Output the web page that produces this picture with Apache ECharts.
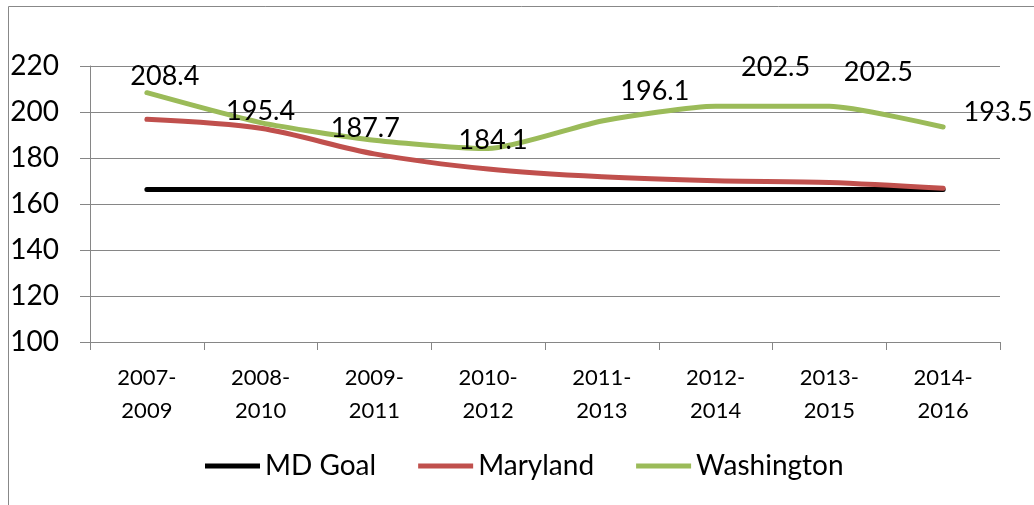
<!DOCTYPE html>
<html>
<head>
<meta charset="utf-8">
<script src="https://cdn.jsdelivr.net/npm/echarts@6/dist/echarts.min.js"></script>
<style>
  html, body { margin: 0; padding: 0; background: #fff; }
  #chart { width: 1034px; height: 505px; }
</style>
</head>
<body>
<div id="chart"></div>
<script>
// 数据
var categories = ['2007-2009', '2008-2010', '2009-2011', '2010-2012', '2011-2013', '2012-2014', '2013-2015', '2014-2016']
var mdGoal = [166.3, 166.3, 166.3, 166.3, 166.3, 166.3, 166.3, 166.3]
var maryland = [196.8, 192.9, 181.8, 175.2, 171.8, 170.1, 169.4, 166.8]
var washington = [208.4, 195.4, 187.7, 184.1, 196.1, 202.5, 202.5, 193.5]

// data label offsets for Washington (placed by hand in the original)
var labelOffsets = [[18, -16], [0, -11], [-9, -12], [5, -8], [53, -30], [60, -39], [49, -34], [55, -15]]

var font = 'Lato, "Open Sans", sans-serif'
var gridColor = '#868686'

var myChart = echarts.init(document.getElementById('chart'))

var option = {
  backgroundColor: '#fff',
  animation: false,
  textStyle: { fontFamily: font },
  graphic: [
    {
      type: 'rect',
      shape: { x: 8.5, y: 6.5, width: 1100, height: 600 },
      style: { fill: 'none', stroke: '#888', lineWidth: 1 }
    }
  ],
  grid: { left: 90, right: 34, top: 66, bottom: 163 },
  legend: {
    left: 205,
    top: 452,
    padding: 0,
    icon: 'rect',
    itemWidth: 55,
    itemHeight: 5,
    itemGap: 42,
    textStyle: { fontFamily: font, fontSize: 28, color: '#000' },
    data: ['MD Goal', 'Maryland', 'Washington']
  },
  xAxis: {
    type: 'category',
    data: categories,
    boundaryGap: true,
    axisLine: { lineStyle: { color: gridColor, width: 1 } },
    axisTick: { show: true, length: 8, lineStyle: { color: gridColor } },
    axisLabel: {
      margin: 19,
      color: '#000',
      fontFamily: font,
      fontSize: 22,
      lineHeight: 33,
      interval: 0,
      formatter: function (v) { return v.replace('-', '-\n') }
    }
  },
  yAxis: {
    type: 'value',
    min: 100,
    max: 220,
    interval: 20,
    axisLine: { show: true, lineStyle: { color: gridColor, width: 1 } },
    axisTick: { show: true, length: 10, lineStyle: { color: gridColor } },
    splitLine: { lineStyle: { color: gridColor, width: 1 } },
    axisLabel: { margin: 31, color: '#000', fontFamily: font, fontSize: 28 }
  },
  series: [
    {
      name: 'MD Goal',
      type: 'line',
      data: mdGoal,
      symbol: 'none',
      lineStyle: { color: '#000', width: 5, cap: 'round' },
      itemStyle: { color: '#000' },
      z: 2
    },
    {
      name: 'Maryland',
      type: 'line',
      data: maryland,
      symbol: 'none',
      smooth: 0.3,
      lineStyle: { color: '#C0504D', width: 5, cap: 'round' },
      itemStyle: { color: '#C0504D' },
      z: 3
    },
    {
      name: 'Washington',
      type: 'line',
      data: washington.map(function (v, i) {
        return { value: v, label: { offset: labelOffsets[i] } }
      }),
      symbol: 'circle',
      symbolSize: 1,
      smooth: 0.2,
      lineStyle: { color: '#9BBB59', width: 5, cap: 'round' },
      itemStyle: { color: '#9BBB59' },
      label: {
        show: true,
        position: 'inside',
        color: '#000',
        fontFamily: font,
        fontSize: 27
      },
      z: 4
    }
  ]
}
myChart.setOption(option)
</script>
</body>
</html>
